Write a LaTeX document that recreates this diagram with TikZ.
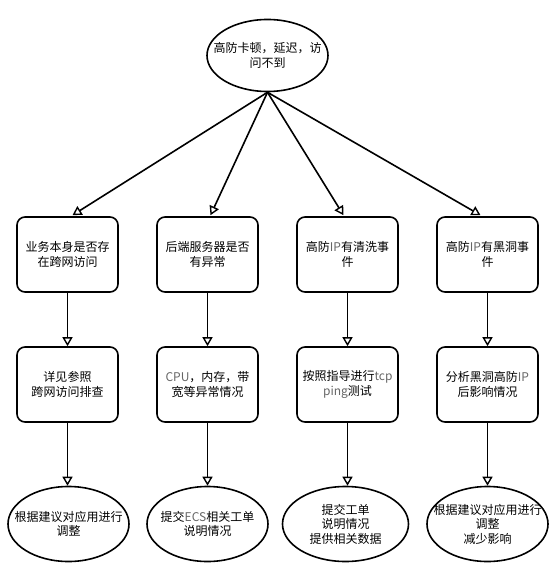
\documentclass[tikz,border=0pt]{standalone}
\usepackage{fontspec}
\setmainfont{Noto Sans CJK SC}
\usetikzlibrary{shapes.geometric,arrows.meta,calc}
\begin{document}
\begin{tikzpicture}[x=1pt,y=-1pt,
  every node/.style={font=\fontsize{12}{14.5}\selectfont, align=center, text=black},
  boxnode/.style={draw, line width=1.6pt, rounded corners=8pt, minimum width=101pt, minimum height=75pt, inner sep=2pt, text width=97pt},
  ellnode/.style={draw, ellipse, line width=1.6pt, minimum width=121pt, minimum height=75pt, inner sep=0pt},
  ltext/.style={align=center, inner sep=0pt},
  conn/.style={line width=1.6pt, -{Triangle[open, length=9pt, width=10pt, line width=1.4pt]}}
]
\useasboundingbox (0,0) rectangle (559,569);
\newcommand{\lat}[1]{\textcolor{black!60}{#1}}
\node[ellnode, minimum height=72pt, label={[ltext]center:高防卡顿，延迟，访\\问不到}] (top) at (267.5,55.5) {};

\node[boxnode] (b1) at (67.5,254.5) {业务本身是否存\\在跨网访问};
\node[boxnode] (b2) at (207.5,254.5) {后端服务器是否\\有异常};
\node[boxnode] (b3) at (347.5,254.5) {高防\lat{IP}有清洗事\\件};
\node[boxnode] (b4) at (487.5,254.5) {高防\lat{IP}有黑洞事\\件};

\node[boxnode] (c1) at (67.5,384.5) {详见参照\\跨网访问排查};
\node[boxnode] (c2) at (207.5,384.5) {\lat{CPU}，内存，带\\宽等异常情况};
\node[boxnode] (c3) at (347.5,384.5) {按照指导进行\lat{tcp}\\\lat{ping}测试};
\node[boxnode] (c4) at (487.5,384.5) {分析黑洞高防\lat{IP}\\后影响情况};

\node[ellnode, label={[ltext]center:根据建议对应用进行\\调整}] (d1) at (68.5,524) {};
\node[ellnode, label={[ltext]center:提交\lat{ECS}相关工单\\说明情况}] (d2) at (207.5,524) {};
\node[ellnode, minimum width=126pt, label={[ltext]center:提交工单\\说明情况\\提供相关数据}] (d3) at (345.5,524) {};
\node[ellnode, label={[ltext]center:根据建议对应用进行\\调整\\减少影响}] (d4) at (487.5,524) {};

\draw[conn] (top.south) -- ($(b1.north)+(5,-1)$);
\draw[conn] (top.south) -- ($(b2.north)+(3,-1)$);
\draw[conn] (top.south) -- ($(b3.north)+(-4,-1)$);
\draw[conn] (top.south) -- ($(b4.north)+(-7,-1)$);

\foreach \i in {1,2,3,4}{
  \draw[conn] (b\i.south) -- (c\i.north);
}
\draw[conn] (c1.south) -- (c1.south |- d1.north);
\draw[conn] (c2.south) -- (c2.south |- d2.north);
\draw[conn] (c3.south) -- (c3.south |- d3.north);
\draw[conn] (c4.south) -- (c4.south |- d4.north);
\end{tikzpicture}
\end{document}
